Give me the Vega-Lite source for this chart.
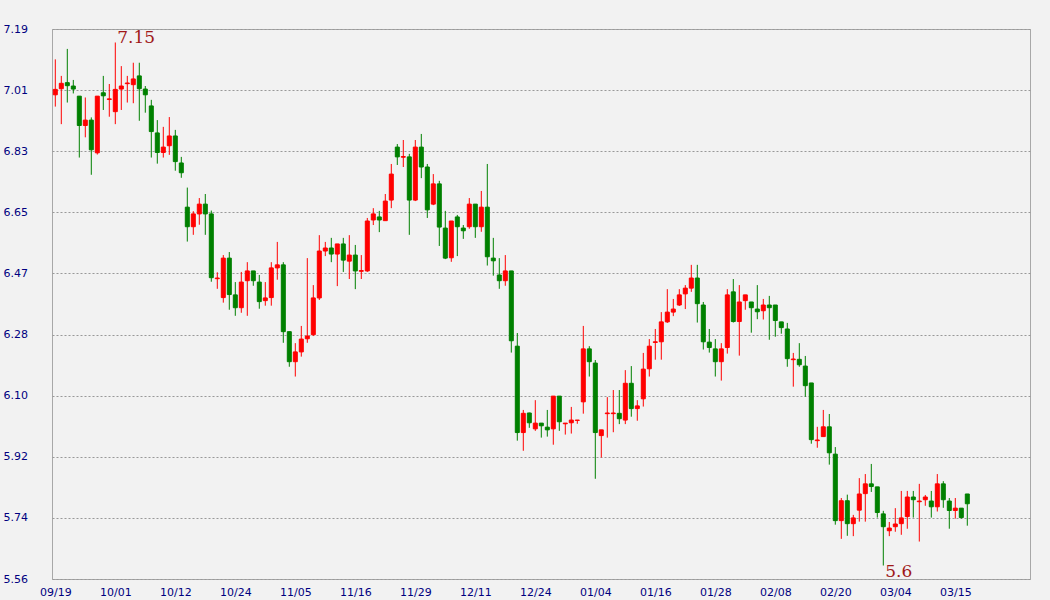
{
  "$schema": "https://vega.github.io/schema/vega-lite/v6.json",
  "width": 978,
  "height": 550,
  "autosize": {"type": "none"},
  "padding": {"left": 52, "top": 29, "right": 20, "bottom": 21},
  "background": "#f2f2f2",
  "config": {
    "view": {"stroke": "#a8a8a8", "strokeWidth": 1, "fill": "#f2f2f2"},
    "axis": {"labelFont": "DejaVu Sans", "labelFontSize": 11, "labelColor": "#000080", "domain": false, "ticks": false, "title": null}
  },
  "data": {"values": [
    {"t":0,"O":6.995,"H":7.100,"L":6.960,"C":7.011},
    {"t":1,"O":7.013,"H":7.051,"L":6.908,"C":7.029},
    {"t":2,"O":7.031,"H":7.131,"L":6.972,"C":7.022},
    {"t":3,"O":7.021,"H":7.039,"L":6.999,"C":7.012},
    {"t":4,"O":6.991,"H":6.991,"L":6.809,"C":6.904},
    {"t":5,"O":6.904,"H":6.987,"L":6.869,"C":6.920},
    {"t":6,"O":6.920,"H":6.928,"L":6.758,"C":6.832},
    {"t":7,"O":6.823,"H":6.991,"L":6.818,"C":6.991},
    {"t":8,"O":7.001,"H":7.051,"L":6.950,"C":6.992},
    {"t":9,"O":6.981,"H":7.027,"L":6.930,"C":6.983},
    {"t":10,"O":6.945,"H":7.150,"L":6.908,"C":7.011},
    {"t":11,"O":7.012,"H":7.080,"L":6.950,"C":7.021},
    {"t":12,"O":7.028,"H":7.051,"L":6.972,"C":7.030},
    {"t":13,"O":7.025,"H":7.090,"L":6.970,"C":7.042},
    {"t":14,"O":7.051,"H":7.090,"L":6.918,"C":7.013},
    {"t":15,"O":7.012,"H":7.021,"L":6.942,"C":6.995},
    {"t":16,"O":6.962,"H":6.980,"L":6.809,"C":6.886},
    {"t":17,"O":6.882,"H":6.920,"L":6.791,"C":6.824},
    {"t":18,"O":6.824,"H":6.900,"L":6.809,"C":6.840},
    {"t":19,"O":6.844,"H":6.929,"L":6.817,"C":6.873},
    {"t":20,"O":6.873,"H":6.891,"L":6.770,"C":6.797},
    {"t":21,"O":6.793,"H":6.811,"L":6.749,"C":6.764},
    {"t":22,"O":6.662,"H":6.720,"L":6.560,"C":6.604},
    {"t":23,"O":6.604,"H":6.650,"L":6.580,"C":6.642},
    {"t":24,"O":6.642,"H":6.689,"L":6.610,"C":6.671},
    {"t":25,"O":6.671,"H":6.701,"L":6.580,"C":6.642},
    {"t":26,"O":6.642,"H":6.652,"L":6.441,"C":6.453},
    {"t":27,"O":6.450,"H":6.469,"L":6.420,"C":6.452},
    {"t":28,"O":6.394,"H":6.520,"L":6.379,"C":6.511},
    {"t":29,"O":6.511,"H":6.529,"L":6.358,"C":6.403},
    {"t":30,"O":6.402,"H":6.440,"L":6.340,"C":6.364},
    {"t":31,"O":6.364,"H":6.470,"L":6.349,"C":6.440},
    {"t":32,"O":6.444,"H":6.499,"L":6.340,"C":6.473},
    {"t":33,"O":6.473,"H":6.473,"L":6.429,"C":6.444},
    {"t":34,"O":6.440,"H":6.461,"L":6.361,"C":6.382},
    {"t":35,"O":6.385,"H":6.440,"L":6.370,"C":6.393},
    {"t":36,"O":6.394,"H":6.499,"L":6.370,"C":6.482},
    {"t":37,"O":6.482,"H":6.559,"L":6.447,"C":6.491},
    {"t":38,"O":6.491,"H":6.499,"L":6.260,"C":6.293},
    {"t":39,"O":6.293,"H":6.293,"L":6.189,"C":6.204},
    {"t":40,"O":6.204,"H":6.259,"L":6.160,"C":6.233},
    {"t":41,"O":6.233,"H":6.310,"L":6.219,"C":6.271},
    {"t":42,"O":6.272,"H":6.511,"L":6.260,"C":6.280},
    {"t":43,"O":6.284,"H":6.431,"L":6.280,"C":6.393},
    {"t":44,"O":6.393,"H":6.579,"L":6.387,"C":6.532},
    {"t":45,"O":6.532,"H":6.559,"L":6.517,"C":6.541},
    {"t":46,"O":6.541,"H":6.571,"L":6.499,"C":6.523},
    {"t":47,"O":6.523,"H":6.553,"L":6.428,"C":6.553},
    {"t":48,"O":6.553,"H":6.571,"L":6.470,"C":6.505},
    {"t":49,"O":6.502,"H":6.579,"L":6.449,"C":6.520},
    {"t":50,"O":6.520,"H":6.550,"L":6.419,"C":6.473},
    {"t":51,"O":6.472,"H":6.520,"L":6.449,"C":6.474},
    {"t":52,"O":6.473,"H":6.630,"L":6.470,"C":6.621},
    {"t":53,"O":6.624,"H":6.659,"L":6.609,"C":6.642},
    {"t":54,"O":6.633,"H":6.651,"L":6.588,"C":6.624},
    {"t":55,"O":6.622,"H":6.701,"L":6.622,"C":6.680},
    {"t":56,"O":6.683,"H":6.790,"L":6.659,"C":6.760},
    {"t":57,"O":6.840,"H":6.849,"L":6.787,"C":6.811},
    {"t":58,"O":6.810,"H":6.861,"L":6.781,"C":6.812},
    {"t":59,"O":6.811,"H":6.820,"L":6.580,"C":6.683},
    {"t":60,"O":6.683,"H":6.861,"L":6.680,"C":6.840},
    {"t":61,"O":6.840,"H":6.879,"L":6.748,"C":6.781},
    {"t":62,"O":6.781,"H":6.790,"L":6.630,"C":6.654},
    {"t":63,"O":6.671,"H":6.760,"L":6.668,"C":6.731},
    {"t":64,"O":6.731,"H":6.740,"L":6.547,"C":6.603},
    {"t":65,"O":6.600,"H":6.651,"L":6.508,"C":6.511},
    {"t":66,"O":6.512,"H":6.621,"L":6.500,"C":6.621},
    {"t":67,"O":6.633,"H":6.639,"L":6.517,"C":6.604},
    {"t":68,"O":6.600,"H":6.609,"L":6.568,"C":6.592},
    {"t":69,"O":6.604,"H":6.689,"L":6.598,"C":6.671},
    {"t":70,"O":6.671,"H":6.671,"L":6.571,"C":6.604},
    {"t":71,"O":6.604,"H":6.710,"L":6.589,"C":6.662},
    {"t":72,"O":6.662,"H":6.790,"L":6.489,"C":6.515},
    {"t":73,"O":6.511,"H":6.571,"L":6.459,"C":6.503},
    {"t":74,"O":6.461,"H":6.511,"L":6.420,"C":6.444},
    {"t":75,"O":6.444,"H":6.520,"L":6.429,"C":6.473},
    {"t":76,"O":6.473,"H":6.473,"L":6.231,"C":6.266},
    {"t":77,"O":6.250,"H":6.289,"L":5.970,"C":5.994},
    {"t":78,"O":5.994,"H":6.061,"L":5.940,"C":6.051},
    {"t":79,"O":6.052,"H":6.053,"L":6.008,"C":6.023},
    {"t":80,"O":6.005,"H":6.090,"L":5.999,"C":6.022},
    {"t":81,"O":6.022,"H":6.022,"L":5.979,"C":6.014},
    {"t":82,"O":6.010,"H":6.061,"L":5.982,"C":6.002},
    {"t":83,"O":6.005,"H":6.102,"L":5.958,"C":6.102},
    {"t":84,"O":6.102,"H":6.102,"L":5.999,"C":6.026},
    {"t":85,"O":6.020,"H":6.022,"L":5.988,"C":6.022},
    {"t":86,"O":6.023,"H":6.070,"L":5.991,"C":6.031},
    {"t":87,"O":6.030,"H":6.031,"L":6.020,"C":6.031},
    {"t":88,"O":6.085,"H":6.310,"L":6.050,"C":6.242},
    {"t":89,"O":6.242,"H":6.250,"L":6.160,"C":6.204},
    {"t":90,"O":6.200,"H":6.209,"L":5.857,"C":5.994},
    {"t":91,"O":5.985,"H":6.002,"L":5.920,"C":6.002},
    {"t":92,"O":6.050,"H":6.099,"L":5.979,"C":6.052},
    {"t":93,"O":6.050,"H":6.120,"L":5.995,"C":6.052},
    {"t":94,"O":6.051,"H":6.120,"L":6.019,"C":6.035},
    {"t":95,"O":6.031,"H":6.179,"L":6.019,"C":6.140},
    {"t":96,"O":6.140,"H":6.191,"L":6.041,"C":6.065},
    {"t":97,"O":6.065,"H":6.090,"L":6.029,"C":6.073},
    {"t":98,"O":6.094,"H":6.230,"L":6.071,"C":6.182},
    {"t":99,"O":6.183,"H":6.271,"L":6.160,"C":6.250},
    {"t":100,"O":6.261,"H":6.301,"L":6.210,"C":6.263},
    {"t":101,"O":6.263,"H":6.351,"L":6.210,"C":6.322},
    {"t":102,"O":6.322,"H":6.419,"L":6.319,"C":6.351},
    {"t":103,"O":6.351,"H":6.390,"L":6.339,"C":6.360},
    {"t":104,"O":6.372,"H":6.419,"L":6.369,"C":6.402},
    {"t":105,"O":6.405,"H":6.431,"L":6.360,"C":6.422},
    {"t":106,"O":6.422,"H":6.491,"L":6.411,"C":6.452},
    {"t":107,"O":6.452,"H":6.491,"L":6.320,"C":6.376},
    {"t":108,"O":6.372,"H":6.381,"L":6.240,"C":6.263},
    {"t":109,"O":6.262,"H":6.301,"L":6.231,"C":6.246},
    {"t":110,"O":6.242,"H":6.271,"L":6.160,"C":6.204},
    {"t":111,"O":6.204,"H":6.259,"L":6.148,"C":6.242},
    {"t":112,"O":6.246,"H":6.419,"L":6.228,"C":6.402},
    {"t":113,"O":6.411,"H":6.449,"L":6.320,"C":6.323},
    {"t":114,"O":6.323,"H":6.431,"L":6.222,"C":6.381},
    {"t":115,"O":6.385,"H":6.402,"L":6.358,"C":6.402},
    {"t":116,"O":6.381,"H":6.381,"L":6.290,"C":6.364},
    {"t":117,"O":6.360,"H":6.431,"L":6.330,"C":6.352},
    {"t":118,"O":6.355,"H":6.390,"L":6.329,"C":6.372},
    {"t":119,"O":6.372,"H":6.399,"L":6.269,"C":6.364},
    {"t":120,"O":6.372,"H":6.372,"L":6.278,"C":6.326},
    {"t":121,"O":6.322,"H":6.322,"L":6.287,"C":6.305},
    {"t":122,"O":6.301,"H":6.319,"L":6.189,"C":6.213},
    {"t":123,"O":6.210,"H":6.230,"L":6.130,"C":6.212},
    {"t":124,"O":6.211,"H":6.259,"L":6.189,"C":6.195},
    {"t":125,"O":6.191,"H":6.221,"L":6.100,"C":6.133},
    {"t":126,"O":6.141,"H":6.141,"L":5.961,"C":5.973},
    {"t":127,"O":5.970,"H":6.011,"L":5.949,"C":5.972},
    {"t":128,"O":5.982,"H":6.061,"L":5.982,"C":6.011},
    {"t":129,"O":6.011,"H":6.049,"L":5.899,"C":5.934},
    {"t":130,"O":5.930,"H":5.951,"L":5.721,"C":5.733},
    {"t":131,"O":5.733,"H":5.800,"L":5.679,"C":5.792},
    {"t":132,"O":5.792,"H":5.810,"L":5.688,"C":5.724},
    {"t":133,"O":5.724,"H":5.750,"L":5.687,"C":5.741},
    {"t":134,"O":5.764,"H":5.859,"L":5.730,"C":5.812},
    {"t":135,"O":5.813,"H":5.871,"L":5.730,"C":5.842},
    {"t":136,"O":5.842,"H":5.901,"L":5.818,"C":5.834},
    {"t":137,"O":5.833,"H":5.833,"L":5.742,"C":5.757},
    {"t":138,"O":5.753,"H":5.762,"L":5.600,"C":5.715},
    {"t":139,"O":5.703,"H":5.729,"L":5.687,"C":5.711},
    {"t":140,"O":5.715,"H":5.770,"L":5.700,"C":5.723},
    {"t":141,"O":5.724,"H":5.821,"L":5.691,"C":5.741},
    {"t":142,"O":5.745,"H":5.821,"L":5.709,"C":5.803},
    {"t":143,"O":5.803,"H":5.821,"L":5.742,"C":5.795},
    {"t":144,"O":5.789,"H":5.842,"L":5.671,"C":5.791},
    {"t":145,"O":5.795,"H":5.809,"L":5.777,"C":5.803},
    {"t":146,"O":5.791,"H":5.821,"L":5.742,"C":5.774},
    {"t":147,"O":5.774,"H":5.871,"L":5.760,"C":5.842},
    {"t":148,"O":5.842,"H":5.850,"L":5.771,"C":5.795},
    {"t":149,"O":5.791,"H":5.800,"L":5.709,"C":5.763},
    {"t":150,"O":5.763,"H":5.800,"L":5.739,"C":5.770},
    {"t":151,"O":5.770,"H":5.770,"L":5.739,"C":5.742},
    {"t":152,"O":5.812,"H":5.812,"L":5.718,"C":5.783}
  ]},
  "encoding": {
    "x": {
      "field": "t", "type": "quantitative",
      "scale": {"domain": [-0.55, 162.45], "nice": false, "zero": false, "padding": 0},
      "axis": {
        "values": [0,10,20,30,40,50,60,70,80,90,100,110,120,130,140,150],
        "labelExpr": "['09/19','10/01','10/12','10/24','11/05','11/16','11/29','12/11','12/24','01/04','01/16','01/28','02/08','02/20','03/04','03/15'][round(datum.value/10)]",
        "grid": false, "labelPadding": 7, "labelFlush": false
      }
    },
    "color": {
      "condition": {"test": "datum.C >= datum.O", "value": "#ff0000"},
      "value": "#008000"
    }
  },
  "layer": [
    {
      "mark": {"type": "rule", "strokeWidth": 1},
      "encoding": {
        "y": {
          "field": "L", "type": "quantitative",
          "scale": {"domain": [5.56, 7.19], "nice": false, "zero": false, "padding": 0},
          "axis": {
            "values": [5.56, 5.7411, 5.9222, 6.1033, 6.2844, 6.4656, 6.6467, 6.8278, 7.0089, 7.19],
            "format": ".2f", "grid": true, "gridColor": "#999999", "gridDash": [2, 2], "gridWidth": 1,
            "labelAlign": "left", "labelPadding": 49
          }
        },
        "y2": {"field": "H"}
      }
    },
    {
      "mark": {"type": "bar", "width": 4, "strokeWidth": 1},
      "encoding": {
        "y": {"field": "O", "type": "quantitative"},
        "y2": {"field": "C"},
        "stroke": {
          "condition": {"test": "datum.C >= datum.O", "value": "#ff0000"},
          "value": "#008000"
        }
      }
    },
    {
      "transform": [
        {"joinaggregate": [{"op": "max", "field": "H", "as": "maxH"}]},
        {"filter": "datum.H == datum.maxH"}
      ],
      "mark": {"type": "text", "align": "left", "baseline": "alphabetic", "dx": 2, "dy": 1, "font": "DejaVu Serif", "fontSize": 17},
      "encoding": {
        "y": {"field": "H", "type": "quantitative"},
        "text": {"field": "H", "type": "quantitative", "format": ".2~f"},
        "color": {"value": "#a01818"}
      }
    },
    {
      "transform": [
        {"joinaggregate": [{"op": "min", "field": "L", "as": "minL"}]},
        {"filter": "datum.L == datum.minL"}
      ],
      "mark": {"type": "text", "align": "left", "baseline": "alphabetic", "dx": 2, "dy": 11, "font": "DejaVu Serif", "fontSize": 17},
      "encoding": {
        "y": {"field": "L", "type": "quantitative"},
        "text": {"field": "L", "type": "quantitative", "format": ".2~f"},
        "color": {"value": "#a01818"}
      }
    }
  ]
}
